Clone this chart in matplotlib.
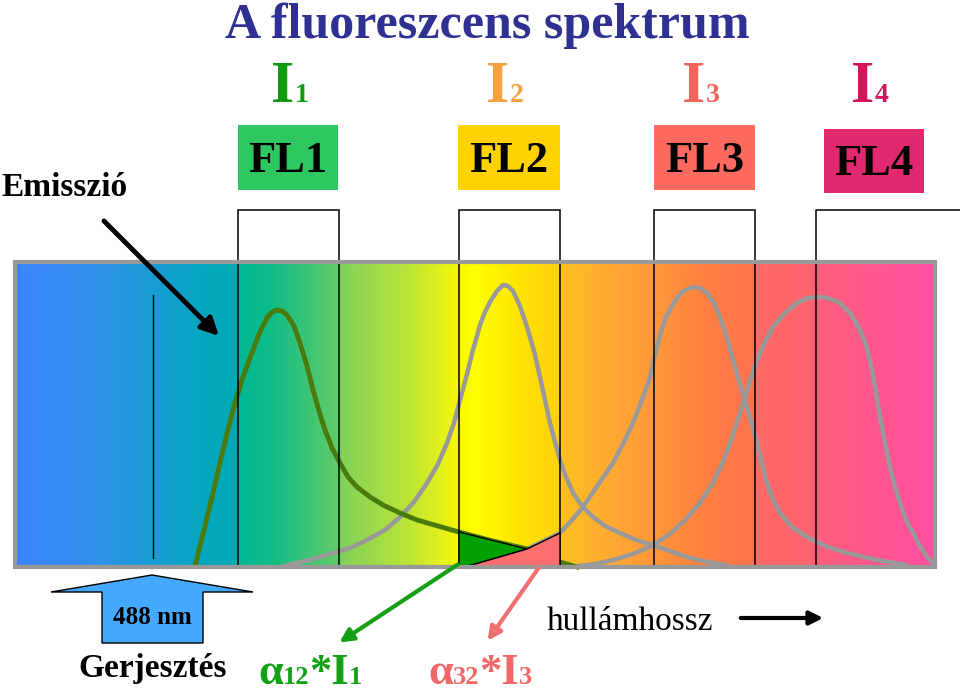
import numpy as np
import matplotlib
matplotlib.use('Agg')
import matplotlib.pyplot as plt
from matplotlib.colors import LinearSegmentedColormap
from matplotlib.patches import Rectangle, Polygon

plt.rcParams['font.family'] = ['Liberation Serif', 'DejaVu Serif']

# emissziós görbék (pixel koordináták a képről olvasva)
fl1_x = [195, 204, 213, 223, 233, 243, 253, 260, 267, 272, 277, 282, 287, 294, 300, 307, 313,
         319, 325, 332, 340, 348, 357, 370, 383, 400, 417, 438, 459, 493, 527, 560, 577]
fl1_y = [566, 530, 493, 450, 410, 377, 350, 332, 318, 312, 310, 311, 315, 326, 343, 366, 390,
         411, 430, 448, 463, 477, 487, 497, 505, 513, 520, 526, 532, 541, 549, 562, 567]

fl2_x = [283, 310, 333, 350, 367, 385, 400, 414, 427, 438, 447, 454, 460, 467, 473, 477, 480,
         485, 490, 497, 503, 508, 513, 520, 527, 534, 540, 545, 550, 555, 560, 566, 573, 582,
         593, 605, 620, 636, 653, 670, 687, 707, 727]
fl2_y = [566, 560, 553, 548, 540, 530, 517, 502, 483, 464, 443, 423, 400, 374, 350, 336, 325,
         312, 302, 291, 285, 286, 291, 306, 327, 351, 377, 400, 423, 442, 460, 477, 493, 506,
         517, 526, 533, 540, 545, 551, 557, 562, 565]

fl3_x = [465, 496, 527, 544, 560, 572, 583, 598, 613, 623, 633, 642, 650, 655, 660, 666, 673,
         682, 692, 700, 707, 714, 720, 727, 733, 740, 747, 752, 757, 762, 767, 773, 780, 792,
         807, 825, 847, 877, 907]
fl3_y = [567, 558, 549, 541, 533, 520, 507, 485, 463, 444, 423, 400, 377, 355, 335, 317, 304,
         292, 287, 288, 293, 303, 317, 338, 360, 384, 407, 425, 443, 464, 483, 500, 513, 527,
         537, 546, 553, 560, 565]

fl4_x = [578, 595, 613, 633, 653, 670, 685, 700, 713, 723, 733, 743, 750, 757, 765, 773, 785,
         797, 807, 817, 828, 840, 851, 860, 866, 870, 875, 880, 885, 890, 895, 900, 906, 913,
         920, 927, 935]
fl4_y = [566, 564, 560, 554, 545, 534, 520, 503, 483, 462, 435, 403, 381, 360, 342, 327, 313,
         303, 298, 297, 298, 303, 314, 330, 345, 360, 387, 417, 443, 467, 487, 503, 520, 533,
         546, 557, 565]

# átfedések az FL2 ablakban
a12_x = [459, 527, 465, 459]
a12_y = [532, 549, 567, 567]
a32_x = [465, 527, 560, 560]
a32_y = [567, 549, 533, 567]

filters = ['FL1', 'FL2', 'FL3', 'FL4']
filter_colors = ['#2fc860', '#ffd200', '#ff6a60', '#e0296f']
intens_labels = ['I', 'I', 'I', 'I']
intens_subs = ['1', '2', '3', '4']
intens_colors = ['#109a10', '#f7a040', '#f2655a', '#d6145c']

fig = plt.figure(figsize=(9.6, 6.97), dpi=100)
ax = fig.add_axes([0, 0, 1, 1])
ax.set_xlim(0, 960)
ax.set_ylim(697, 0)
ax.axis('off')
rend = fig.canvas.get_renderer()


def run_text(x, y, parts, color, weight='bold'):
    """ több darabból álló szöveg (alsó index az alapvonalon), x = közép """
    texts = []
    total = 0
    for s, size in parts:
        t = ax.text(0, y, s, fontsize=size, color=color, fontweight=weight, va='baseline')
        w = t.get_window_extent(rend).width
        texts.append((t, w))
        total += w
    cur = x - total / 2
    for t, w in texts:
        t.set_x(cur)
        cur += w


# színátmenetes spektrum
stops = [(15, '#3d84ff'), (100, '#2f92e8'), (200, '#05a6c0'), (237, '#00aab2'),
         (239, '#00b894'), (270, '#10bc88'), (338, '#62cc66'), (341, '#82d25a'),
         (400, '#b4e23c'), (440, '#e2f01c'), (462, '#fafa00'), (475, '#ffff00'),
         (520, '#ffe400'), (559, '#ffd010'), (561, '#ffc020'), (610, '#ffaa32'),
         (654, '#ff9838'), (700, '#ff8240'), (754, '#ff724e'), (757, '#ff6a66'),
         (814, '#ff6470'), (817, '#ff5f7a'), (935, '#ff4fa2')]
x0, x1 = 15, 935
cmap = LinearSegmentedColormap.from_list(
    'spek', [((p - x0) / (x1 - x0), c) for p, c in stops])
grad = np.linspace(0, 1, 920).reshape(1, -1)
ax.imshow(grad, cmap=cmap, aspect='auto', extent=(x0, x1, 567, 262), zorder=1)
ax.add_patch(Rectangle((x0, 262), x1 - x0, 305, fill=False, ec='#999999', lw=3, zorder=6))

# szűrő ablakok
for left, right in [(238, 339), (459, 560), (654, 755)]:
    ax.add_patch(Rectangle((left, 210), right - left, 357, fill=False, ec='black', lw=1.1, zorder=5))
ax.plot([816, 816, 960], [567, 210, 210], color='black', lw=1.1, zorder=5)

# gerjesztő vonal
ax.plot([153, 153], [295, 558], color='black', lw=1, zorder=3)

# görbék
for gx, gy in [(fl2_x, fl2_y), (fl3_x, fl3_y), (fl4_x, fl4_y)]:
    ax.plot(gx, gy, color='#999999', lw=3.2, solid_joinstyle='round', solid_capstyle='round', zorder=3)
ax.plot(fl1_x, fl1_y, color='#4a7a0c', lw=3.5, solid_joinstyle='round', zorder=4)

ax.add_patch(Polygon(list(zip(a12_x, a12_y)), closed=True, fc='#00a000', ec='black', lw=1, zorder=5))
ax.add_patch(Polygon(list(zip(a32_x, a32_y)), closed=True, fc='#ff6e6e', ec='black', lw=1, zorder=5))

# címek
ax.text(487, 38, 'A fluoreszcens spektrum', fontsize=36, fontweight='bold',
        color='#2e3192', ha='center', va='baseline')

i_pos = [290, 505, 701, 870]
for k in range(4):
    run_text(i_pos[k], 102, [(intens_labels[k], 43), (intens_subs[k], 20)], intens_colors[k])

box_pos = [(238, 125, 100, 65), (458, 125, 102, 65), (654, 125, 101, 65), (824, 129, 100, 64)]
for (bx, by, bw, bh), name, col in zip(box_pos, filters, filter_colors):
    ax.add_patch(Rectangle((bx, by), bw, bh, fc=col, ec='none', zorder=2))
    ax.text(bx + bw / 2, by + bh / 2 + 3, name, fontsize=32, fontweight='bold',
            ha='center', va='center', zorder=3)

ax.text(65, 188, 'Emisszió', fontsize=24, fontweight='bold', ha='center', va='center')
ax.annotate('', xy=(221, 338), xytext=(102, 219),
            arrowprops=dict(arrowstyle='-|>', lw=3.5, color='black', mutation_scale=26), zorder=7)

# gerjesztés nyíl
arrow_pts = [(102, 643), (102, 592), (51, 592), (152, 575), (253, 592), (203, 592), (203, 643)]
ax.add_patch(Polygon(arrow_pts, closed=True, fc='#45aaff', ec='black', lw=1, zorder=3))
ax.text(152, 617, '488 nm', fontsize=18, fontweight='bold', ha='center', va='center', zorder=4)
ax.text(153, 668, 'Gerjesztés', fontsize=24, fontweight='bold', ha='center', va='center')

# áthallás nyilak
ax.annotate('', xy=(337, 644), xytext=(460, 563),
            arrowprops=dict(arrowstyle='-|>', lw=3, color='#14a014', mutation_scale=20), zorder=7)
ax.annotate('', xy=(486, 643), xytext=(540, 566),
            arrowprops=dict(arrowstyle='-|>', lw=3, color='#f07070', mutation_scale=20), zorder=7)

run_text(310, 684, [('α', 32), ('12', 19), ('*I', 32), ('1', 19)], '#14a014')
run_text(480, 684, [('α', 32), ('32', 19), ('*I', 32), ('3', 19)], '#f06868')

ax.text(630, 622, 'hullámhossz', fontsize=24, ha='center', va='center')
ax.annotate('', xy=(826, 618), xytext=(738, 618),
            arrowprops=dict(arrowstyle='-|>', lw=3, color='black', mutation_scale=20))

fig.savefig('out.png', dpi=100)
